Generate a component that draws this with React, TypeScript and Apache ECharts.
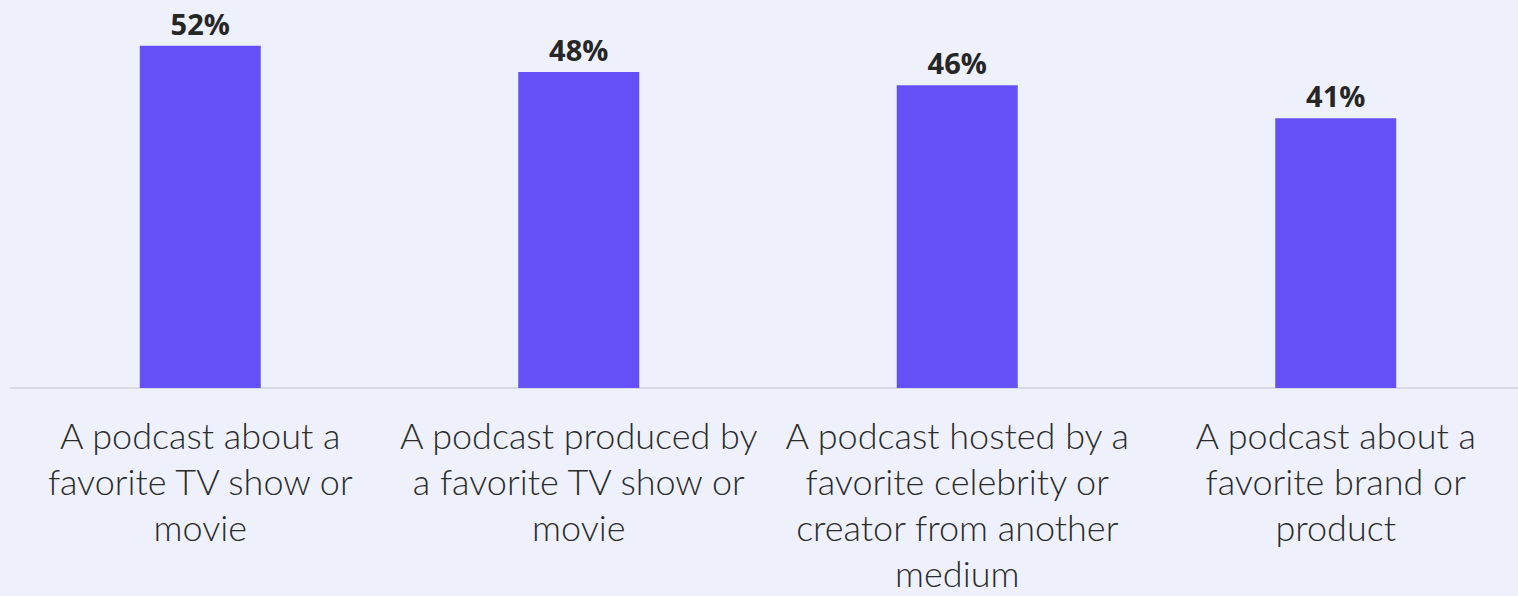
import React, { useEffect, useRef } from "react";
import * as echarts from "echarts";

const categories: string[] = [
  "A podcast about a\nfavorite TV show or\nmovie",
  "A podcast produced by\na favorite TV show or\nmovie",
  "A podcast hosted by a\nfavorite celebrity or\ncreator from another\nmedium",
  "A podcast about a\nfavorite brand or\nproduct",
];

const shares: number[] = [52, 48, 46, 41];

export default function App() {
  const ref = useRef<HTMLDivElement>(null);

  useEffect(() => {
    if (!ref.current) return;
    const chart = echarts.init(ref.current, undefined, { renderer: "svg" });
    chart.setOption({
      animation: false,
      backgroundColor: "#EEF1FB",
      grid: {
        left: 11,
        width: 1514,
        top: 26,
        bottom: 208,
        containLabel: false,
        outerBoundsMode: "none",
      },
      xAxis: {
        type: "category",
        data: categories,
        axisLine: { show: true, lineStyle: { color: "#D8DAE3", width: 2 } },
        axisTick: { show: false },
        axisLabel: {
          interval: 0,
          margin: 24,
          fontFamily: "Lato",
          fontWeight: 300,
          fontSize: 36,
          lineHeight: 46,
          color: "#2B2B2B",
          align: "center",
        },
      },
      yAxis: {
        type: "value",
        min: 0,
        max: 55,
        show: false,
        splitLine: { show: false },
      },
      series: [
        {
          type: "bar",
          data: shares,
          barWidth: 121,
          itemStyle: { color: "#654FF6" },
          label: {
            show: true,
            position: "top",
            distance: 8,
            formatter: "{c}%",
            fontFamily: "Open Sans",
            fontWeight: "bold",
            fontSize: 29,
            color: "#262626",
          },
        },
      ],
    });
    return () => chart.dispose();
  }, []);

  return (
    <div
      ref={ref}
      style={{ position: "absolute", left: 0, top: 0, width: 1518, height: 596 }}
    />
  );
}
